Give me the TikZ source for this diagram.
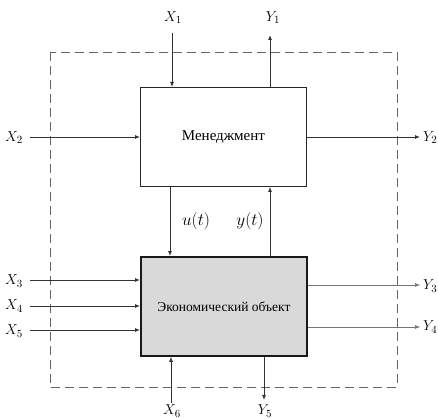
\documentclass[tikz,border=0pt]{standalone}
\usepackage{fontspec}
\setmainfont{Liberation Serif}
\usetikzlibrary{arrows.meta}
\begin{document}
\begin{tikzpicture}[x=1pt,y=-1pt,
  ln/.style={draw=black!80,line width=0.8pt},
  arr/.style={ln,-{Latex[length=5pt,width=4pt]}},
  lab/.style={inner sep=0pt,font=\fontsize{15}{17}\selectfont},
  box/.style={draw=black!85,line width=0.9pt,minimum width=166pt,minimum height=99pt,inner sep=0pt}]
\useasboundingbox (0,0) rectangle (438,419);
\draw[draw=black!60,line width=0.8pt,dash pattern=on 9pt off 5pt] (50,52) rectangle (397,387);
\node[box,fill=white,anchor=north west,font=\fontsize{15}{18}\selectfont] (m) at (140,87) {Менеджмент};
\node[box,fill=black!15,line width=1.8pt,draw=black!90,anchor=north west,font=\fontsize{13.5}{16}\selectfont] (e) at (140,256) {Экономический объект};
% labels
\node[lab] (x1) at (173,18) {$X_{1}$};
\node[lab] (y1) at (273,18) {$Y_{1}$};
\node[lab] (x2) at (14,138) {$X_{2}$};
\node[lab,anchor=west] (y2) at (423,138) {$Y_{2}$};
\node[lab] (x3) at (14,281) {$X_{3}$};
\node[lab] (x4) at (14,306) {$X_{4}$};
\node[lab] (x5) at (14,331) {$X_{5}$};
\node[lab,anchor=west] (y3) at (423,286) {$Y_{3}$};
\node[lab,anchor=west] (y4) at (423,327) {$Y_{4}$};
\node[lab] (x6) at (172,411) {$X_{6}$};
\node[lab] (y5) at (265,411) {$Y_{5}$};
\node[lab,font=\fontsize{16}{18}\selectfont] (u) at (196,221) {$u(t)$};
\node[lab,font=\fontsize{16}{18}\selectfont] (yt) at (250,221) {$y(t)$};
% connectors
\coordinate (x1s) at (172,33);
\coordinate (y1e) at (270,35);
\coordinate (x2s) at (30,137);
\coordinate (y2e) at (420,137);
\draw[arr] (x1s) -- (x1s |- m.north);
\draw[arr] (m.north -| y1e) -- (y1e);
\draw[arr] (x2s) -- (x2s -| m.west);
\draw[arr] (m.east |- y2e) -- (y2e);
\coordinate (uc) at (170,0);
\coordinate (yc) at (270,0);
\draw[arr] (m.south -| uc) -- (e.north -| uc);
\draw[arr] (e.north -| yc) -- (m.south -| yc);
\coordinate (x3s) at (30,280);
\coordinate (x4s) at (30,306);
\coordinate (x5s) at (30,330);
\draw[arr] (x3s) -- (x3s -| e.west);
\draw[arr] (x4s) -- (x4s -| e.west);
\draw[arr] (x5s) -- (x5s -| e.west);
\coordinate (y3e) at (420,285);
\coordinate (y4e) at (420,327);
\draw[arr,draw=black!55,line width=0.6pt] (e.east |- y3e) -- (y3e);
\draw[arr,draw=black!55,line width=0.6pt] (e.east |- y4e) -- (y4e);
\coordinate (x6s) at (171,403);
\coordinate (y5e) at (264,400);
\draw[arr] (x6s) -- (x6s |- e.south);
\draw[arr] (e.south -| y5e) -- (y5e);
\end{tikzpicture}
\end{document}
